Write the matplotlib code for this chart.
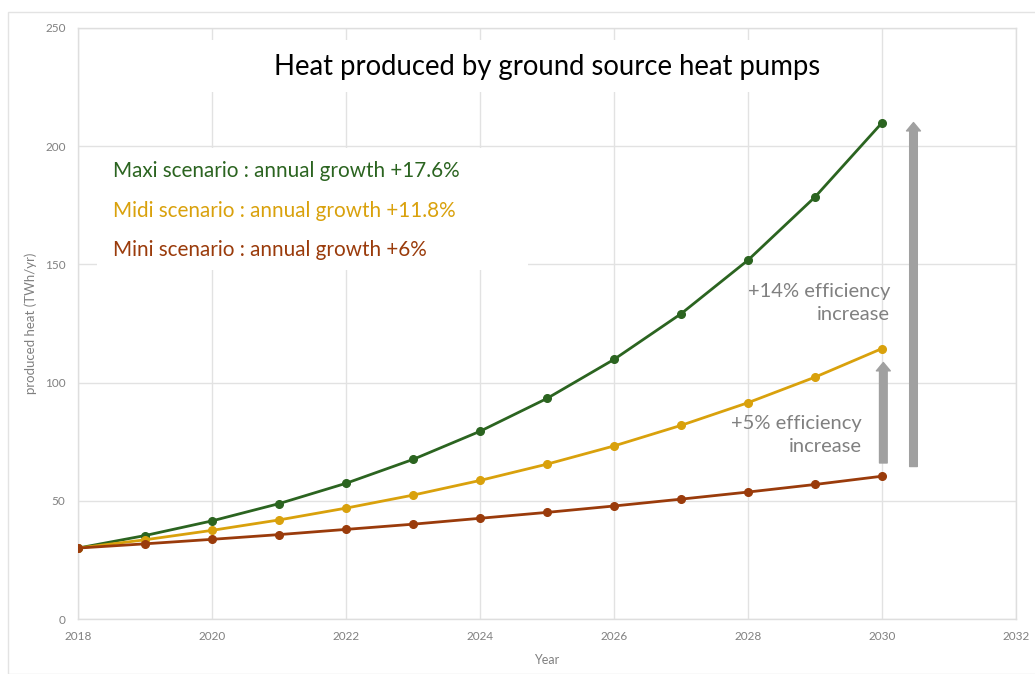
import matplotlib
matplotlib.use("Agg")
import matplotlib.pyplot as plt
from matplotlib.patches import Rectangle

years = list(range(2018, 2031))
maxi = [30, 35.3, 41.5, 48.8, 57.4, 67.5, 79.4, 93.3, 109.8, 129.1, 151.8, 178.5, 209.9]
midi = [30, 33.5, 37.5, 41.9, 46.9, 52.4, 58.6, 65.5, 73.2, 81.9, 91.5, 102.3, 114.4]
mini = [30, 31.8, 33.7, 35.7, 37.9, 40.1, 42.6, 45.1, 47.8, 50.7, 53.7, 56.9, 60.4]
series_labels = ["Maxi scenario : annual growth +17.6%",
                 "Midi scenario : annual growth +11.8%",
                 "Mini scenario : annual growth +6%"]
x_ticks = list(range(2018, 2033, 2))
y_ticks = [0, 50, 100, 150, 200, 250]

GREEN = "#2b6420"
GOLD = "#d9a10c"
BROWN = "#9a3b0b"
GRAYTXT = "#808080"
FONT = ["Lato", "DejaVu Sans"]

plt.rcParams['font.family'] = FONT
fig = plt.figure(figsize=(10.35, 6.74), dpi=100)
W, H = 1035, 674
ax = fig.add_axes([78 / W, 1 - 619 / H, (1016 - 78) / W, (619 - 28) / H])

# outer frame
fig.patches.append(Rectangle((8 / W, 0), 1.2, 1 - 12 / H, transform=fig.transFigure,
                             fill=False, edgecolor="#e3e3e3", linewidth=1.0))

ax.set_xlim(2018, 2032)
ax.set_ylim(0, 250)
ax.set_xticks(x_ticks)
ax.set_yticks(y_ticks)
ax.grid(True, color="#e2e2e2", linewidth=1.0)
ax.set_axisbelow(True)
for s in ax.spines.values():
    s.set_color("#dedede")
    s.set_linewidth(1.0)
ax.tick_params(length=0, labelsize=8.5, labelcolor=GRAYTXT, pad=9)
ax.set_xlabel("Year", fontsize=9, color=GRAYTXT, labelpad=8)
ax.set_ylabel("produced heat (TWh/yr)", fontsize=9.5, color=GRAYTXT, labelpad=6)

# white boxes covering grid (title and text block)
def white_box(x0, y0, x1, y1):
    ax.add_patch(Rectangle((x0 / W, 1 - y1 / H), (x1 - x0) / W, (y1 - y0) / H,
                           transform=fig.transFigure, facecolor="white",
                           edgecolor="none", zorder=1))
white_box(187, 40, 872, 92)
white_box(97, 148, 528, 270)

for vals, c in [(maxi, GREEN), (midi, GOLD), (mini, BROWN)]:
    ax.plot(years, vals, color=c, linewidth=2.0, marker="o", markersize=5.5, zorder=3)

fig.text(547 / W, 1 - 67 / H, "Heat produced by ground source heat pumps",
         ha="center", va="center", fontsize=19.8, color="black")

for lab, c, py in zip(series_labels, [GREEN, GOLD, BROWN], [171, 211, 250]):
    fig.text(113 / W, 1 - py / H, lab, ha="left", va="center", fontsize=14.9, color=c)

fig.text(890 / W, 1 - 303 / H, "+14% efficiency\nincrease", ha="right", va="center",
         fontsize=14.5, color=GRAYTXT, linespacing=1.42)
fig.text(862 / W, 1 - 435 / H, "+5% efficiency\nincrease", ha="right", va="center",
         fontsize=14.5, color=GRAYTXT, linespacing=1.42)

# arrows in data coordinates
style = "simple,head_length=0.6,head_width=1.0,tail_width=0.55"
ax.annotate("", xy=(2030.47, 210), xytext=(2030.47, 64.5),
            arrowprops=dict(arrowstyle=style, color="#a0a0a0", shrinkA=0, shrinkB=0), zorder=4)
ax.annotate("", xy=(2030.02, 108.5), xytext=(2030.02, 66),
            arrowprops=dict(arrowstyle=style, color="#a0a0a0", shrinkA=0, shrinkB=0), zorder=4)

fig.savefig("out.png", dpi=100)
